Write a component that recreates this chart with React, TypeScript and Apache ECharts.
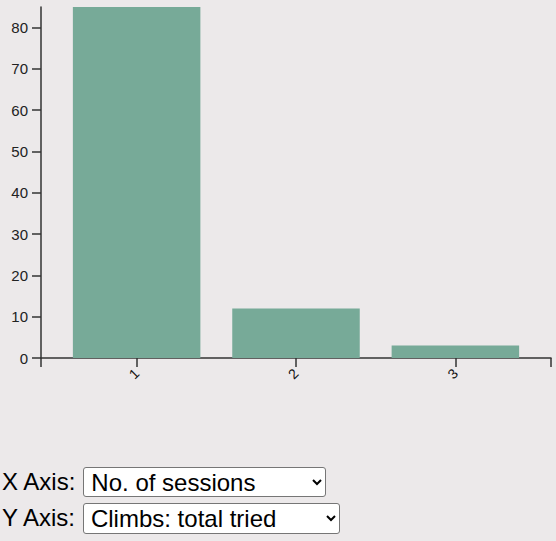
import { useEffect, useRef } from 'react';
import * as echarts from 'echarts';

const sessions = [1, 2, 3];
const climbsTried = [85, 12, 3];
const xOptions = ['No. of sessions'];
const yOptions = ['Climbs: total tried'];

const BG = '#ece9ea';
const BAR = '#77aa98';
const AXIS = '#333';
const FONT = '"Liberation Sans", Arial, Helvetica, sans-serif';

// band scale with 0.2 padding inside and outside, like d3.scaleBand
const xMin = 0.4;
const xMax = 3.6;

function BarChart() {
  const chartRef = useRef<HTMLDivElement>(null);

  useEffect(() => {
    if (!chartRef.current) return;
    const chart = echarts.init(chartRef.current, null, { renderer: 'svg' });

    const option: echarts.EChartsOption = {
      animation: false,
      backgroundColor: BG,
      textStyle: { fontFamily: FONT },
      grid: { left: 41, right: 5, top: 7, bottom: 92, containLabel: false },
      xAxis: {
        type: 'value',
        min: xMin,
        max: xMax,
        axisLine: { show: true, lineStyle: { color: AXIS, width: 1.5 } },
        axisTick: {
          show: true,
          length: 9,
          customValues: [xMin, ...sessions, xMax],
          lineStyle: { color: AXIS, width: 1.5 }
        },
        axisLabel: {
          customValues: sessions,
          rotate: 45,
          margin: 13,
          fontSize: 14,
          color: '#111',
          fontFamily: FONT,
          formatter: (v: number) => String(v)
        },
        splitLine: { show: false }
      },
      yAxis: {
        type: 'value',
        min: 0,
        max: 85,
        interval: 10,
        axisLine: { show: true, lineStyle: { color: AXIS, width: 1.5 } },
        axisTick: { show: true, length: 9, lineStyle: { color: AXIS, width: 1.5 } },
        axisLabel: { showMaxLabel: false, margin: 13, fontSize: 15, color: '#222', fontFamily: FONT },
        splitLine: { show: false }
      },
      series: [
        {
          type: 'bar',
          data: sessions.map((s, i) => [s, climbsTried[i]]),
          barWidth: '80%',
          itemStyle: { color: BAR }
        }
      ]
    };

    chart.setOption(option);
    return () => chart.dispose();
  }, []);

  return <div ref={chartRef} style={{ width: 556, height: 450 }} />;
}

const selectStyle: React.CSSProperties = {
  fontSize: 24,
  fontFamily: FONT,
  background: '#fff',
  color: '#000',
  border: '1px solid #767676',
  borderRadius: 3,
  height: 30,
  padding: '0 3px',
  marginLeft: 8
};

export default function App() {
  useEffect(() => {
    document.body.style.margin = '0';
    document.body.style.background = BG;
  }, []);

  return (
    <div style={{ width: 556, height: 541, background: BG, fontFamily: FONT, overflow: 'hidden' }}>
      <BarChart />
      <div style={{ marginTop: 14, paddingLeft: 2, fontSize: 24, color: '#000' }}>
        <div style={{ height: 36, display: 'flex', alignItems: 'center' }}>
          <label>X Axis:</label>
          <select style={{ ...selectStyle, width: 243 }} defaultValue={xOptions[0]}>
            {xOptions.map(o => <option key={o}>{o}</option>)}
          </select>
        </div>
        <div style={{ height: 36, display: 'flex', alignItems: 'center' }}>
          <label>Y Axis:</label>
          <select style={{ ...selectStyle, width: 257, height: 31 }} defaultValue={yOptions[0]}>
            {yOptions.map(o => <option key={o}>{o}</option>)}
          </select>
        </div>
      </div>
    </div>
  );
}
